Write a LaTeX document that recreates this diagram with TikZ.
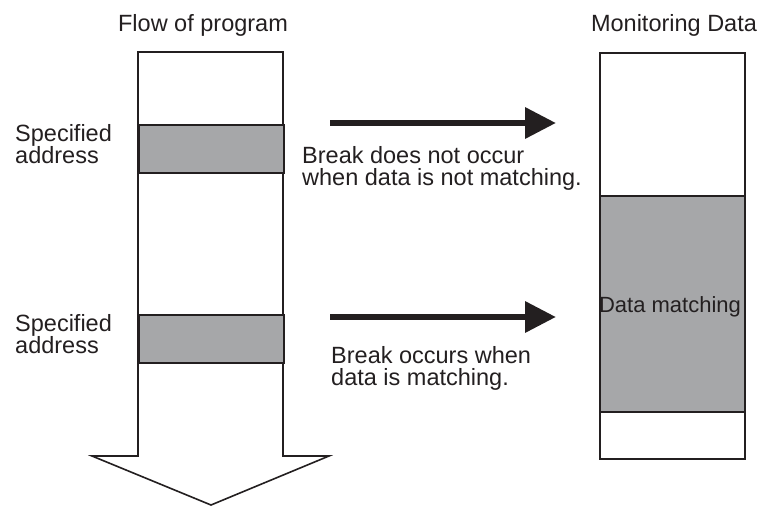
\documentclass[tikz,border=0pt]{standalone}
\usepackage{fontspec}
\setmainfont{Liberation Sans}
\usetikzlibrary{arrows.meta}
\definecolor{lineC}{HTML}{231F20}
\definecolor{grayC}{HTML}{A6A7A9}
\begin{document}
\begin{tikzpicture}[x=1pt,y=-1pt,
  outline/.style={draw=lineC,line width=1.6pt},
  band/.style={outline,fill=grayC,inner sep=0pt,anchor=north west},
  plain/.style={outline,fill=white,inner sep=0pt,anchor=north west},
  lbl/.style={font=\fontsize{23.5}{22}\selectfont,text=lineC,inner sep=0pt},
  bigarrow/.style={draw=lineC,line width=6.5pt,-{Triangle[length=31pt,width=30pt]}}]
\useasboundingbox (0,0) rectangle (762,506);
% left flow column with down arrow
\draw[outline,fill=white,line join=miter] (138,52) -- (283,52) -- (283,456) -- (329,456) -- (211,505) -- (92,456) -- (138,456) -- cycle;
\node[band,minimum width=145pt,minimum height=48pt] (addr1) at (138,124) {};
\node[band,minimum width=145pt,minimum height=48pt] (addr2) at (138,314) {};
% right monitoring column
\node[plain,minimum width=145pt,minimum height=406pt] (mon) at (599,52) {};
\node[band,minimum width=145pt,minimum height=216pt] (match) at (599,195) {};
\node[lbl,font=\fontsize{22}{22}\selectfont,anchor=base] (matchtxt) at (670,312) {Data matching};
% titles
\node[lbl,anchor=base] (t1) at (203,31) {Flow of program};
\node[lbl,anchor=base] (t2) at (674,31) {Monitoring Data};
% side labels (base anchor = last line's baseline)
\node[lbl,anchor=base west,align=left] (s1) at (15,163) {Specified\\address};
\node[lbl,anchor=base west,align=left] (s2) at (15,353) {Specified\\address};
% arrows
\coordinate (a1s) at (330,123);
\coordinate (a1e) at (556,123);
\coordinate (a2s) at (330,317);
\coordinate (a2e) at (556,317);
\draw[bigarrow] (a1s) -- (a1e);
\draw[bigarrow] (a2s) -- (a2e);
\node[lbl,anchor=base west,align=left] (b1) at (302,185) {Break does not occur\\when data is not matching.};
\node[lbl,anchor=base west,align=left] (b2) at (331,385) {Break occurs when\\data is matching.};
\end{tikzpicture}
\end{document}
